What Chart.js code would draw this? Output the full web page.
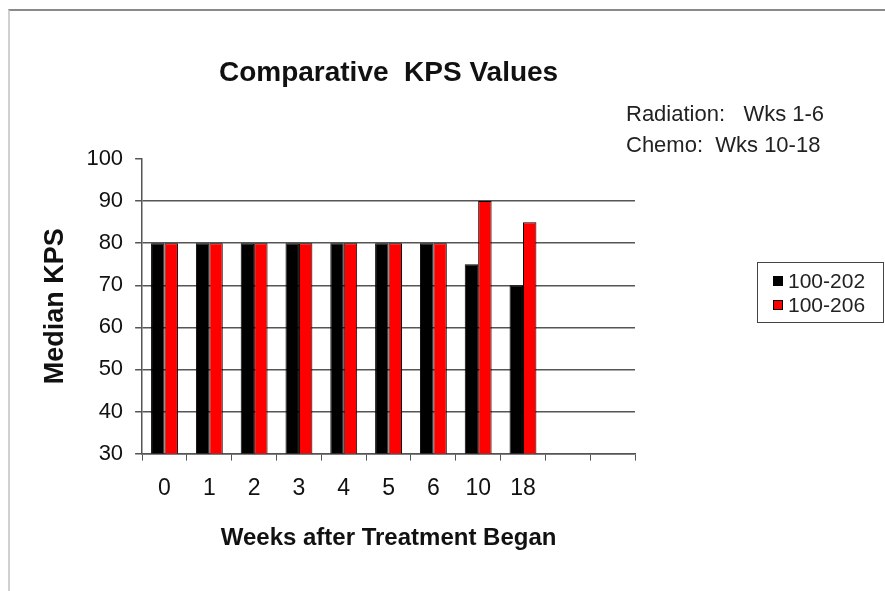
<!DOCTYPE html>
<html>
<head>
<meta charset="utf-8">
<script src="https://cdn.jsdelivr.net/npm/chart.js@4.4.1/dist/chart.umd.min.js"></script>
<style>
  html, body { margin: 0; padding: 0; background: #fff; }
  #wrap { position: relative; width: 885px; height: 591px; }
  #frame { position: absolute; left: 8px; top: 9px; right: 0; bottom: 0;
           border-top: 2px solid #8a8a8a; border-left: 2px solid #d0d0d0; }
  canvas { position: absolute; left: 0; top: 0; }
</style>
</head>
<body>
<div id="wrap">
  <div id="frame"></div>
  <canvas id="kpsChart" width="885" height="591"></canvas>
</div>
<script>
// week labels (two empty slots at the end, as in the original sheet)
const weeks = ['0', '1', '2', '3', '4', '5', '6', '10', '18', '', ''];
const series202 = [80, 80, 80, 80, 80, 80, 80, 75, 70, null, null];
const series206 = [80, 80, 80, 80, 80, 80, 80, 90, 85, null, null];
const seriesNames = ['100-202', '100-206'];
const seriesColors = ['#000000', '#ff0000'];
const chartTitle = 'Comparative  KPS Values';
const notes = ['Radiation:   Wks 1-6', 'Chemo:  Wks 10-18'];

const FONT = '"Liberation Sans", Arial, sans-serif';
const AXIS = '#555555';

// title over the plot area, text notes + boxed legend on the right
const sidePlugin = {
  id: 'side',
  afterDraw(chart) {
    const ctx = chart.ctx;
    const area = chart.chartArea;
    ctx.save();
    ctx.textBaseline = 'middle';

    ctx.fillStyle = '#111';
    ctx.font = 'bold 28px ' + FONT;
    ctx.textAlign = 'center';
    ctx.fillText(chartTitle, (area.left + area.right) / 2, 73);

    ctx.fillStyle = '#222';
    ctx.font = '22px ' + FONT;
    ctx.textAlign = 'left';
    ctx.fillText(notes[0], 626, 115);
    ctx.fillText(notes[1], 626, 146);

    // legend box
    ctx.strokeStyle = '#444';
    ctx.lineWidth = 1;
    ctx.strokeRect(757.5, 262.5, 126, 60);
    ctx.font = '21px ' + FONT;
    chart.data.datasets.forEach((ds, i) => {
      const y = 281 + i * 24;
      ctx.fillStyle = ds.backgroundColor;
      ctx.fillRect(773, y - 5, 10, 10);
      ctx.strokeStyle = '#000';
      ctx.strokeRect(773.5, y - 4.5, 9, 9);
      ctx.fillStyle = '#222';
      ctx.fillText(ds.label, 788, y + 1);
    });
    ctx.restore();
  }
};

new Chart(document.getElementById('kpsChart'), {
  type: 'bar',
  data: {
    labels: weeks,
    datasets: [
      { label: seriesNames[0], data: series202, backgroundColor: seriesColors[0],
        borderColor: '#000', borderWidth: 1 },
      { label: seriesNames[1], data: series206, backgroundColor: seriesColors[1],
        borderColor: '#000', borderWidth: 1 }
    ]
  },
  options: {
    responsive: false,
    animation: false,
    layout: { padding: { top: 159, left: 35, right: 250, bottom: 34 } },
    datasets: { bar: { categoryPercentage: 0.6, barPercentage: 1 } },
    plugins: {
      legend: { display: false },
      tooltip: { enabled: false },
      title: { display: false }
    },
    scales: {
      x: {
        grid: { drawOnChartArea: false, tickLength: 7, tickColor: AXIS },
        border: { color: AXIS, width: 1.5 },
        ticks: { color: '#111', font: { family: FONT, size: 23 }, padding: 14, maxRotation: 0 },
        title: {
          display: true,
          text: 'Weeks after Treatment Began',
          color: '#111',
          font: { family: FONT, size: 24, weight: 'bold' },
          padding: { top: 8, bottom: 4 }
        }
      },
      y: {
        min: 30,
        max: 100,
        ticks: { stepSize: 10, color: '#111', font: { family: FONT, size: 22 }, padding: 12 },
        grid: {
          color: c => (c.tick && c.tick.value === 100 ? 'rgba(0,0,0,0)' : AXIS),
          lineWidth: 1.5,
          tickLength: 7,
          tickColor: AXIS
        },
        border: { color: AXIS, width: 1.5 },
        title: {
          display: true,
          text: 'Median KPS',
          color: '#111',
          font: { family: FONT, size: 27, weight: 'bold' },
          padding: { top: 4, bottom: 3 }
        }
      }
    }
  },
  plugins: [sidePlugin]
});
</script>
</body>
</html>
